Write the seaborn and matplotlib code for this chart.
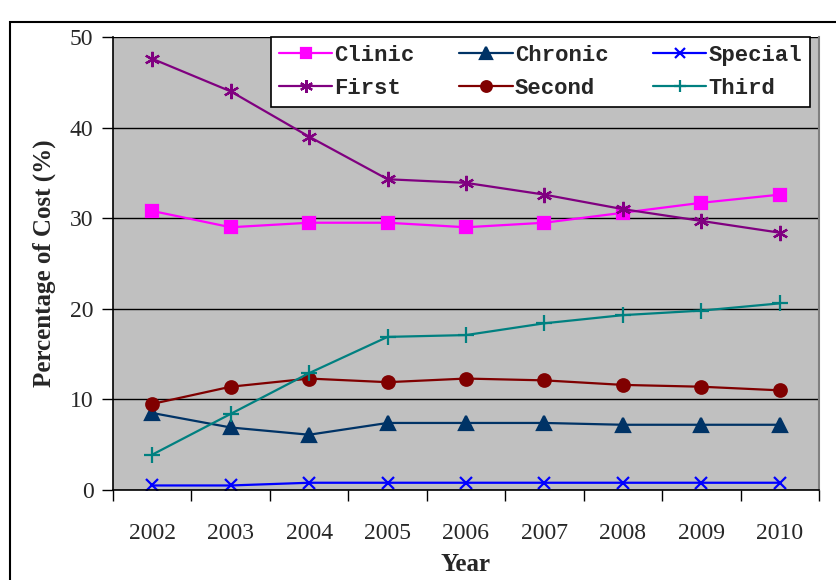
import numpy as np
import pandas as pd
import seaborn as sns
import matplotlib.pyplot as plt
from matplotlib.patches import Rectangle

years = [2002, 2003, 2004, 2005, 2006, 2007, 2008, 2009, 2010]
clinic = [30.8, 29.0, 29.5, 29.5, 29.0, 29.5, 30.6, 31.7, 32.6]
chronic = [8.5, 6.9, 6.1, 7.4, 7.4, 7.4, 7.2, 7.2, 7.2]
special = [0.5, 0.5, 0.8, 0.8, 0.8, 0.8, 0.8, 0.8, 0.8]
first = [47.6, 44.0, 39.0, 34.3, 33.9, 32.6, 31.0, 29.7, 28.4]
second = [9.5, 11.4, 12.3, 11.9, 12.3, 12.1, 11.6, 11.4, 11.0]
third = [3.9, 8.4, 12.9, 16.9, 17.1, 18.4, 19.3, 19.8, 20.6]

series_names = ["Clinic", "Chronic", "Special", "First", "Second", "Third"]
series_values = [clinic, chronic, special, first, second, third]

colors = ["#FF00FF", "#003366", "#0000FF", "#800080", "#800000", "#008080"]
markers = ["s", "^", "x", (6, 2, 0), "o", "+"]
msizes = [9, 10, 9, 11, 9, 11]

rows = []
for name, vals in zip(series_names, series_values):
    for i, v in enumerate(vals):
        rows.append({"pos": i, "value": v, "type": name})
df = pd.DataFrame(rows)

sns.set_theme(style="white")
plt.rcParams["font.family"] = ["Liberation Serif", "DejaVu Serif"]

fig = plt.figure(figsize=(8.37, 5.8), dpi=100)
ax = fig.add_axes([113 / 837, 1 - 490 / 580, (819 - 113) / 837, (490 - 37) / 580])
ax.set_facecolor("#C0C0C0")

for name, c, m, ms in zip(series_names, colors, markers, msizes):
    sub = df[df["type"] == name]
    sns.lineplot(data=sub, x="pos", y="value", ax=ax, color=c, marker=m,
                 markersize=ms, markeredgecolor=c, markeredgewidth=1.6,
                 linewidth=1.6, label=name)

ax.set_xlim(-0.5, len(years) - 0.5)
ax.set_ylim(0, 50)
ax.set_yticks([0, 10, 20, 30, 40, 50])
ax.yaxis.grid(True, color="black", linewidth=1)
ax.set_axisbelow(True)

ax.set_xticks(np.arange(len(years)))
ax.set_xticklabels([str(y) for y in years], fontsize=17)
ax.set_xticks(np.arange(-0.5, len(years)), minor=True)
ax.tick_params(axis="x", which="major", length=0, pad=24)
ax.tick_params(axis="x", which="minor", length=8, width=1, color="black", direction="out")
ax.tick_params(axis="y", length=8, width=1, color="black", direction="out", labelsize=17, pad=6)
ax.xaxis.set_ticks_position("bottom")
ax.yaxis.set_ticks_position("left")

for s in ["left", "bottom"]:
    ax.spines[s].set_color("black")
    ax.spines[s].set_linewidth(1.2)
ax.spines["top"].set_visible(False)
ax.spines["right"].set_color("#808080")
ax.spines["right"].set_linewidth(1.5)

ax.set_xlabel("Year", fontsize=18, fontweight="bold", labelpad=6)
ax.set_ylabel("Percentage of Cost (%)", fontsize=18, fontweight="bold", labelpad=10)

# legend filled row by row like the original
handles, labels = ax.get_legend_handles_labels()
order = [0, 3, 1, 4, 2, 5]
leg = ax.legend([handles[i] for i in order], [labels[i] for i in order],
                loc="upper right", bbox_to_anchor=(0.987, 1.0), ncol=3,
                borderaxespad=0, frameon=True, fancybox=False, framealpha=1,
                edgecolor="black", handlelength=2.4, handletextpad=0.1,
                columnspacing=2.0, borderpad=0.35, labelspacing=0.55,
                markerscale=0.85,
                prop={"family": "Liberation Mono", "size": 16, "weight": "bold"})
leg.get_frame().set_linewidth(1.2)

fig.patches.append(Rectangle((10 / 837, -0.1), 1.2, 0.1 + (580 - 22) / 580,
                             transform=fig.transFigure, fill=False,
                             edgecolor="black", linewidth=1.5, zorder=-1))

fig.savefig("out.png", dpi=100)
